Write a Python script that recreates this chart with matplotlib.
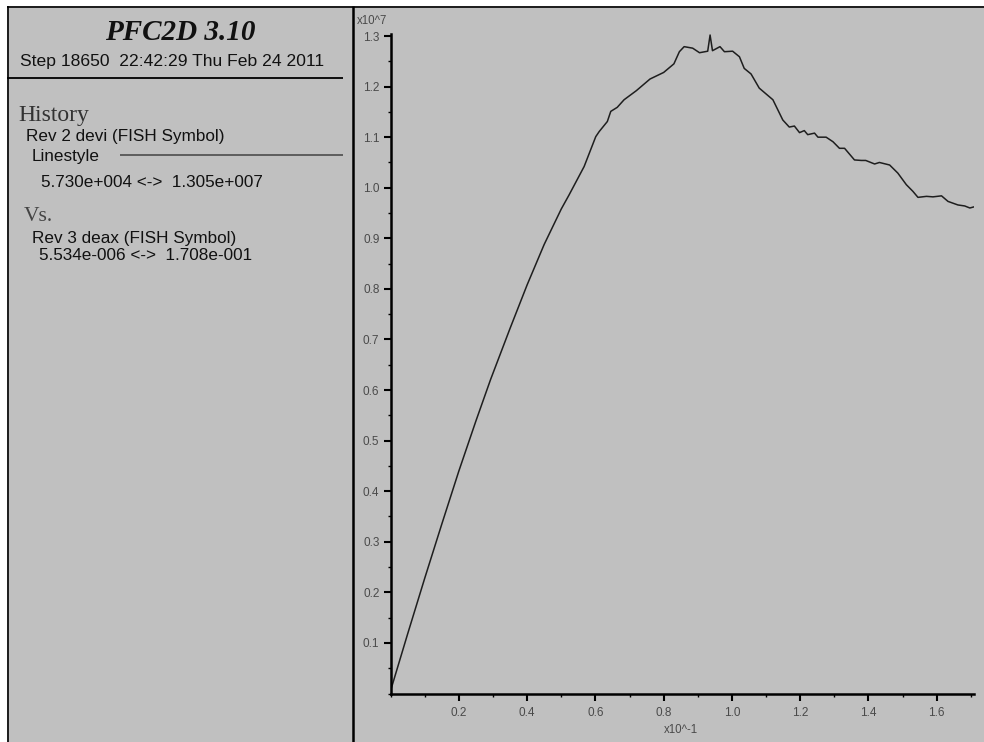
import matplotlib
matplotlib.use("Agg")
import matplotlib.pyplot as plt
from matplotlib.lines import Line2D
from matplotlib.ticker import MultipleLocator, FixedLocator

# History record: axial strain (deax, x10^-1) vs deviator stress (devi, x10^7)
deax_e1 = [0.0, 0.05, 0.10, 0.15, 0.20, 0.25, 0.293, 0.35, 0.40, 0.45,
           0.50, 0.523, 0.567, 0.601, 0.611, 0.635, 0.645, 0.664, 0.684, 0.72,
           0.76, 0.80, 0.83, 0.846, 0.86, 0.885, 0.905, 0.929, 0.936, 0.943,
           0.965, 0.978, 1.002, 1.022, 1.036, 1.056, 1.080, 1.120, 1.149, 1.168,
           1.183, 1.198, 1.212, 1.222, 1.242, 1.252, 1.276, 1.296, 1.315, 1.330,
           1.359, 1.379, 1.392, 1.418, 1.432, 1.462, 1.486, 1.511, 1.530, 1.545,
           1.570, 1.589, 1.614, 1.633, 1.662, 1.682, 1.697, 1.708]
devi_e7 = [0.0057, 0.118, 0.228, 0.335, 0.440, 0.539, 0.621, 0.722, 0.808, 0.888,
           0.958, 0.986, 1.042, 1.101, 1.111, 1.131, 1.151, 1.159, 1.174, 1.192,
           1.215, 1.228, 1.245, 1.269, 1.279, 1.276, 1.267, 1.270, 1.302, 1.271,
           1.279, 1.269, 1.270, 1.259, 1.236, 1.225, 1.197, 1.174, 1.134, 1.120,
           1.122, 1.109, 1.113, 1.105, 1.108, 1.100, 1.100, 1.091, 1.078, 1.078,
           1.055, 1.054, 1.054, 1.047, 1.050, 1.045, 1.029, 1.006, 0.993, 0.981,
           0.983, 0.982, 0.984, 0.973, 0.966, 0.964, 0.960, 0.962]

y_major = [0.1, 0.2, 0.3, 0.4, 0.5, 0.6, 0.7, 0.8, 0.9, 1.0, 1.1, 1.2, 1.3]
y_labels = ["0.1", "0.2", "0.3", "0.4", "0.5", "0.6", "0.7", "0.8", "0.9",
            "1.0", "1.1", "1.2", "1.3"]
x_major = [0.2, 0.4, 0.6, 0.8, 1.0, 1.2, 1.4, 1.6]
x_labels = ["0.2", "0.4", "0.6", "0.8", "1.0", "1.2", "1.4", "1.6"]

title = "PFC2D 3.10"
step_line = "Step 18650  22:42:29 Thu Feb 24 2011"
history_lines = ["Rev 2 devi (FISH Symbol)", "Linestyle",
                 "5.730e+004 <->  1.305e+007"]
vs_lines = ["Rev 3 deax (FISH Symbol)", "5.534e-006 <->  1.708e-001"]

W, H = 984, 742
BG = "#c0c0c0"
SANS = ["Liberation Sans", "DejaVu Sans"]
SERIF = ["Liberation Serif", "DejaVu Serif"]
BODY = 12.3

fig = plt.figure(figsize=(W / 100, H / 100), dpi=100, facecolor=BG)


def fx(px):
    return px / W


def fy(py):
    return 1 - py / H


def hline(x0, x1, y, lw, color="black"):
    fig.add_artist(Line2D([fx(x0), fx(x1)], [fy(y), fy(y)], lw=lw, color=color,
                          transform=fig.transFigure, solid_capstyle="butt"))


def vline(x, y0, y1, lw, color="black"):
    fig.add_artist(Line2D([fx(x), fx(x)], [fy(y0), fy(y1)], lw=lw, color=color,
                          transform=fig.transFigure, solid_capstyle="butt"))


# white frame margin on top and left
fig.add_artist(plt.Rectangle((0, fy(6)), 1, 1 - fy(6), transform=fig.transFigure,
                             color="white", lw=0, zorder=0))
fig.add_artist(plt.Rectangle((0, 0), fx(7), 1, transform=fig.transFigure,
                             color="white", lw=0, zorder=0))
hline(7, W, 6.5, 1.2)
vline(7.5, 6, H, 1.2)
vline(352.5, 6, H, 1.8)

# left info panel
fig.text(fx(180), fy(40.5), title, family=SERIF, fontsize=21, weight="bold",
         style="italic", ha="center", va="baseline", color="#111111")
fig.text(fx(20), fy(66), step_line, family=SANS, fontsize=12.6, ha="left",
         va="baseline", color="#111111")
hline(7, 343, 78, 1.3)
fig.text(fx(18), fy(120.5), "History", family=SERIF, fontsize=17,
         ha="left", va="baseline", color="#333333")
fig.text(fx(26), fy(141), history_lines[0], family=SANS, fontsize=BODY,
         ha="left", va="baseline", color="#111111")
fig.text(fx(31.7), fy(161), history_lines[1], family=SANS, fontsize=BODY,
         ha="left", va="baseline", color="#111111")
hline(120, 343, 155.3, 1.3, color="#555555")
fig.text(fx(40.7), fy(186.5), history_lines[2], family=SANS, fontsize=BODY,
         ha="left", va="baseline", color="#111111")
fig.text(fx(24), fy(220.7), "Vs.", family=SERIF, fontsize=15.5,
         ha="left", va="baseline", color="#444444")
fig.text(fx(31.7), fy(242.5), vs_lines[0], family=SANS, fontsize=BODY,
         ha="left", va="baseline", color="#111111")
fig.text(fx(39.3), fy(260.5), vs_lines[1], family=SANS, fontsize=BODY,
         ha="left", va="baseline", color="#111111")

# plot panel
x_left, x_right = 390.6, 973.6
y_bottom, y_top = 693.5, 33.5
ax = fig.add_axes([fx(x_left), fy(y_bottom), fx(x_right) - fx(x_left),
                   fy(y_top) - fy(y_bottom)])
ax.set_facecolor(BG)
ax.plot(deax_e1, devi_e7, color="#1e1e1e", lw=1.1)
ax.set_xlim(0, 1.708)
ax.set_ylim(0, 1.305)

for side in ("top", "right"):
    ax.spines[side].set_visible(False)
for side in ("left", "bottom"):
    ax.spines[side].set_linewidth(1.8)
    ax.spines[side].set_color("black")

ax.yaxis.set_major_locator(FixedLocator(y_major))
ax.set_yticklabels(y_labels)
ax.yaxis.set_minor_locator(MultipleLocator(0.05))
ax.xaxis.set_major_locator(FixedLocator(x_major))
ax.set_xticklabels(x_labels)
ax.xaxis.set_minor_locator(MultipleLocator(0.1))

ax.tick_params(axis="both", which="major", length=5, width=1.5, color="black",
               direction="out", labelsize=8.5, labelcolor="#4a4a4a")
ax.tick_params(axis="both", which="minor", length=2.5, width=1.0, color="black",
               direction="out")
ax.tick_params(axis="y", which="major", pad=3)
ax.tick_params(axis="x", which="major", pad=5)
for lab in ax.get_xticklabels() + ax.get_yticklabels():
    lab.set_family(SANS)

fig.text(fx(357), fy(21), "x10^7", family=SANS, fontsize=8.3, ha="left",
         va="center", color="#4a4a4a")
fig.text(fx(681), fy(730), "x10^-1", family=SANS, fontsize=8.3, ha="center",
         va="center", color="#4a4a4a")

fig.savefig("out.png", dpi=100, facecolor=BG)
